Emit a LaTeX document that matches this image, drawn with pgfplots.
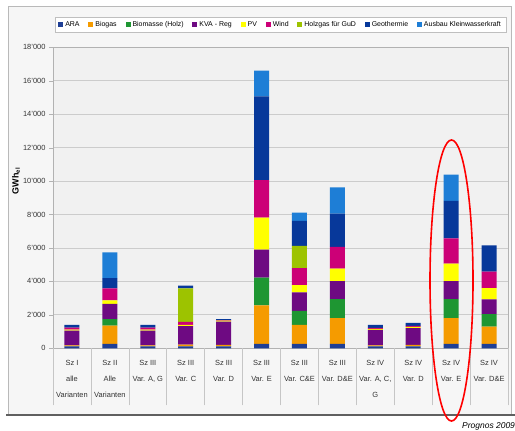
\documentclass[border=0pt]{standalone}
\usepackage{pgfplots}
\usepackage{pgfplotstable}
\pgfplotsset{compat=1.18}
\usepackage{fontspec}
\setmainfont{Liberation Sans}

\definecolor{cARA}{HTML}{1F3F95}
\definecolor{cBiogas}{HTML}{F59B00}
\definecolor{cBio}{HTML}{1E9632}
\definecolor{cKVA}{HTML}{6E0A82}
\definecolor{cPV}{HTML}{FFFF00}
\definecolor{cWind}{HTML}{CC0077}
\definecolor{cHolz}{HTML}{9DC300}
\definecolor{cGeo}{HTML}{07389A}
\definecolor{cKW}{HTML}{1E7ED6}
\definecolor{plotbg}{HTML}{F1F1F1}
\definecolor{chartbg}{HTML}{F6F6F6}

% electricity production per scenario, GWh_el, one column per technology
\pgfplotstableread{
x  ARA  Biogas Bio  KVA  PV   Wind Holz Geo  KW
0  120  60     0    870  60   120  0    170  0
1  260  1100   380  920  200  720  0    620  1540
2  120  60     0    870  60   120  0    170  0
3  120  100    0    1100 80   180  2000 170  0
4  120  80     0    1390 60   40   0    50   0
5  260  2300   1660 1680 1920 2240 0    5000 1540
6  260  1140   840  1100 440  1020 1320 1500 500
7  260  1540   1140 1080 740  1300 0    2000 1560
8  120  60     0    920  60   60   0    180  0
9  120  80     0    1000 80   60   0    180  0
10 260  1540   1140 1080 1040 1520 0    2240 1560
11 260  1040   740  880  680  980  0    1580 0
}\prodtable

\begin{document}
\begin{tikzpicture}
\begin{scope}[x=1bp,y=1bp]
\useasboundingbox (0,0) rectangle (515,430);
\fill[white] (0,0) rectangle (515,430);
% chart frame
\fill[chartbg] (8,15) rectangle (511,423);
\draw[gray!55, line width=1bp] (8,15) -- (8,423) -- (511,423) -- (511,15);
\draw[gray!75!black, line width=1.6bp] (6,15) -- (515,15);
\end{scope}

\begin{axis}[
  at={(71.96bp,81.7bp)}, anchor=origin,
  width=455bp, height=301bp, scale only axis,
  ybar stacked, bar width=15bp,
  axis background/.style={fill=plotbg},
  xmin=-0.5, xmax=11.5, ymin=0, ymax=18000,
  axis line style={draw=gray!60},
  xtick pos=bottom, ytick pos=left,
  scaled y ticks=false,
  ytick={0,2000,...,18000},
  yticklabels={0,2'000,4'000,6'000,8'000,10'000,12'000,14'000,16'000,18'000},
  /pgf/number format/assume math mode=true,
  ymajorgrids, major grid style={draw=gray!40, line width=0.9bp},
  tick align=outside, major tick length=4bp,
  major y tick style={draw=gray!60},
  yticklabel style={font=\fontsize{7.5}{8.5}\selectfont, text=black!80},
  xtick={0,...,11},
  major x tick style={draw=none},
  xticklabels={{Sz I\\alle\\Varianten},{Sz II\\Alle\\Varianten},{Sz III\\Var. A, G},{Sz III\\Var. C},{Sz III\\Var. D},{Sz III\\Var. E},{Sz III\\Var. C\&E},{Sz III\\Var. D\&E},{Sz IV\\Var. A, C,\\G},{Sz IV\\Var. D},{Sz IV\\Var. E},{Sz IV\\Var. D\&E}},
  xticklabel style={font=\fontsize{7.5}{16.5}\selectfont, align=center, text=black!80, anchor=north, yshift=-4bp},
  extra x ticks={-0.5,0.5,...,11.5},
  extra x tick labels={},
  extra x tick style={grid=none, xtick pos=bottom, major tick length=57bp, major x tick style={draw=gray!45, line width=0.6bp}},
  legend columns=9,
  legend style={at={(0.5,1)}, anchor=south, yshift=15bp, draw=gray!50, fill=white,
    font=\fontsize{7}{8}\selectfont, inner xsep=3bp, inner ysep=2bp,
    /tikz/every even column/.append style={column sep=6.8bp}},
  legend image code/.code={\fill[#1] (0bp,-2.6bp) rectangle (5bp,2.6bp);},
  every axis plot/.append style={draw=none},
]
\addplot[fill=cARA] table[x=x,y=ARA] {\prodtable};
\addplot[fill=cBiogas] table[x=x,y=Biogas] {\prodtable};
\addplot[fill=cBio] table[x=x,y=Bio] {\prodtable};
\addplot[fill=cKVA] table[x=x,y=KVA] {\prodtable};
\addplot[fill=cPV] table[x=x,y=PV] {\prodtable};
\addplot[fill=cWind] table[x=x,y=Wind] {\prodtable};
\addplot[fill=cHolz] table[x=x,y=Holz] {\prodtable};
\addplot[fill=cGeo] table[x=x,y=Geo] {\prodtable};
\addplot[fill=cKW] table[x=x,y=KW] {\prodtable};
\legend{ARA,Biogas,Biomasse (Holz),KVA - Reg,PV,Wind,Holzgas für GuD,Geothermie,Ausbau Kleinwasserkraft}
\end{axis}

\begin{scope}[x=1bp,y=1bp]
% axis title
\node[rotate=90, font=\bfseries\fontsize{9}{10}\selectfont] at (16,249) {GWh\textsubscript{el}};
% highlight of scenario IV, variant E
\draw[red, line width=1.6bp] (451.5,149.5) ellipse [x radius=21.5, y radius=140.5];
% source
\node[anchor=base west, inner sep=0pt, font=\itshape\fontsize{8.5}{9}\selectfont] at (462,1.5) {Prognos 2009};
\end{scope}
\end{tikzpicture}
\end{document}
